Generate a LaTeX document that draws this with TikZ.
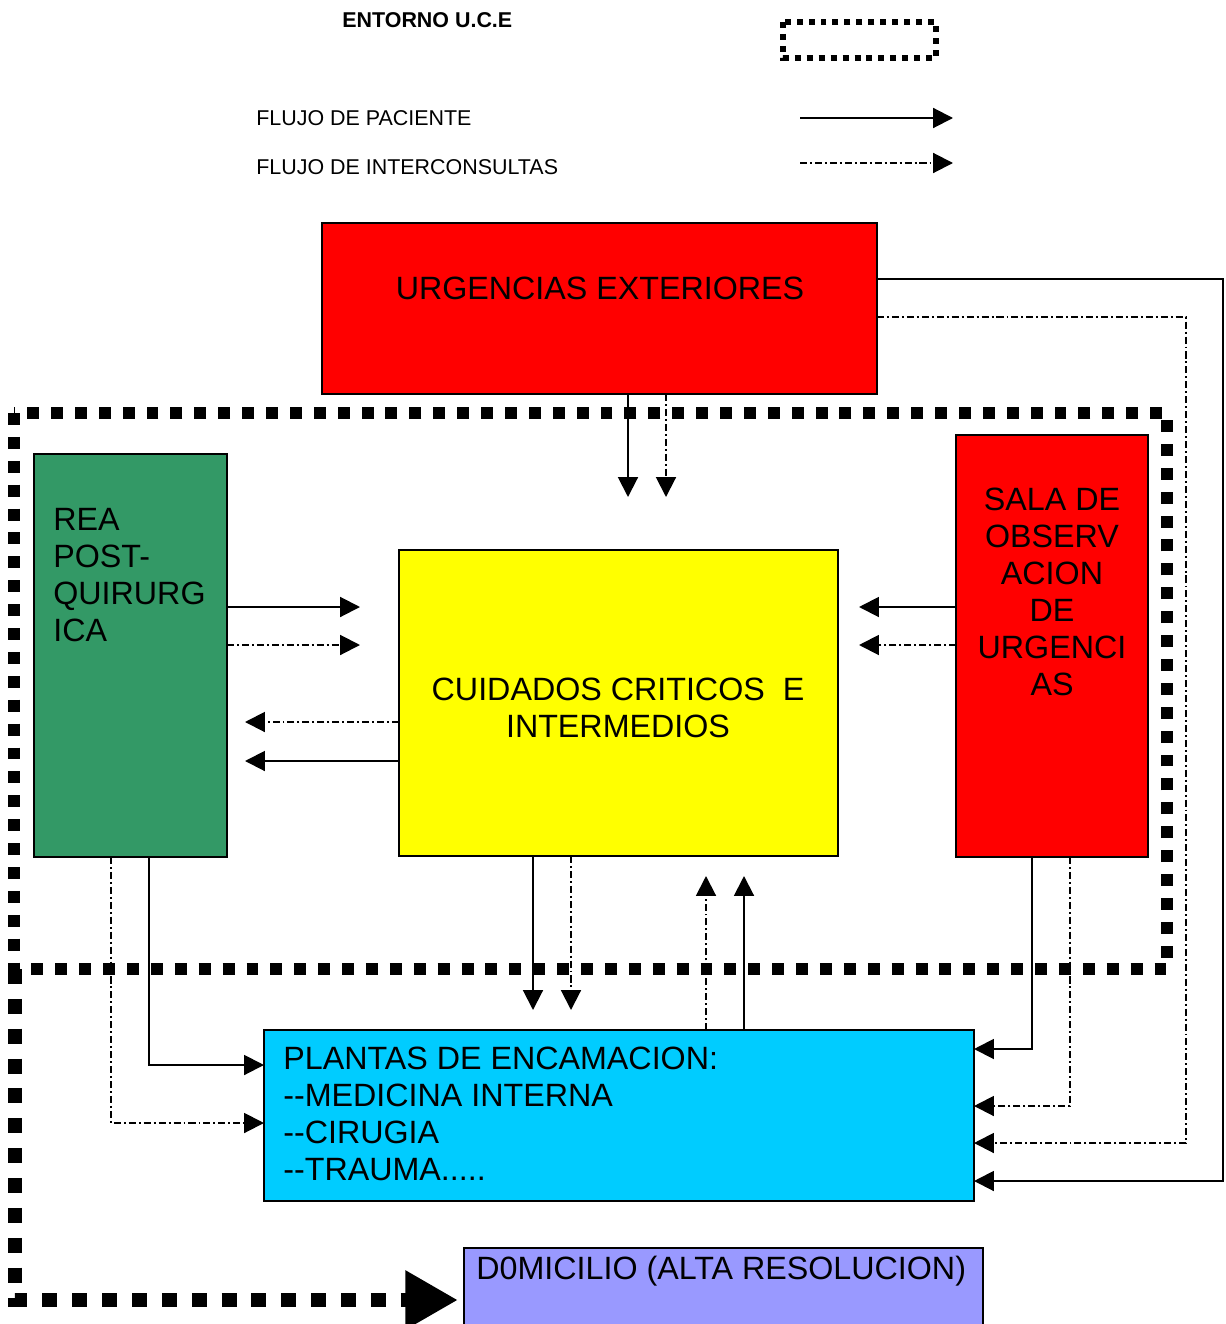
\documentclass[tikz,border=0pt]{standalone}
\usepackage{fontspec}
\setmainfont{Liberation Sans}
\usetikzlibrary{arrows.meta}
\definecolor{urgred}{HTML}{FF0000}
\definecolor{reagreen}{HTML}{339966}
\definecolor{ccyellow}{HTML}{FFFF00}
\definecolor{plantcyan}{HTML}{00CCFF}
\definecolor{domviolet}{HTML}{9999FF}
\def\px{0.02cm}
\begin{document}
\begin{tikzpicture}[x=0.02cm, y=-0.02cm,
  box/.style={draw=black, line width=1.1pt, rectangle, inner sep=0pt, outer sep=0pt, anchor=north west},
  bigtxt/.style={inner sep=0pt, font=\fontsize{18.35}{21}\selectfont},
  legtxt/.style={inner sep=0pt, font=\fontsize{12.2}{14}\selectfont, anchor=base west},
  flow/.style={draw=black, line width=1.15pt, -{Triangle[length=11.3pt,width=11.3pt]}},
  consult/.style={flow, dash pattern=on 4pt off 1.7pt on 1.1pt off 1.7pt},
  ucebox/.style={draw=black, line width=6.8pt, dash pattern=on 6.8pt off 6.8pt},
  exitline/.style={draw=black, line width=8.5pt, dash pattern=on 8.5pt off 8.5pt, -{Triangle[length=30pt,width=31.7pt]}},
  legbox/.style={draw=black, line width=3.4pt, dash pattern=on 3.4pt off 3.4pt},
]
\useasboundingbox (0,0) rectangle (1225,1324);

% legend
\node[legtxt, font=\bfseries\fontsize{12.2}{14}\selectfont] (entorno) at (342,28) {ENTORNO U.C.E};
\draw[legbox] (783,22) rectangle (936,58);
\node[legtxt] (lflujo) at (256,126) {FLUJO DE PACIENTE};
\node[legtxt] (linter) at (256,175) {FLUJO DE INTERCONSULTAS};
\coordinate (la1) at (800,118); \coordinate (lb1) at (953,118);
\coordinate (la2) at (800,163); \coordinate (lb2) at (953,163);
\draw[flow] (la1) -- (lb1);
\draw[consult] (la2) -- (lb2);

% U.C.E. environment
\draw[ucebox] (14,413) rectangle (1167,969);

% boxes
\node[box, fill=urgred, minimum width=555*\px, minimum height=171*\px] (urg) at (322,223) {};
\node[box, fill=reagreen, minimum width=193*\px, minimum height=403*\px] (rea) at (34,454) {};
\node[box, fill=ccyellow, minimum width=439*\px, minimum height=306*\px] (cc) at (399,550) {};
\node[box, fill=urgred, minimum width=192*\px, minimum height=422*\px] (sala) at (956,435) {};
\node[box, fill=plantcyan, minimum width=710*\px, minimum height=171*\px] (plant) at (264,1030) {};
\node[box, fill=domviolet, minimum width=519*\px, minimum height=110*\px] (dom) at (464,1248) {};

% texts
\node[bigtxt, anchor=base] (urgT) at (600,299) {URGENCIAS EXTERIORES};
\node[bigtxt, anchor=north west, align=left] (reaT) at (53,508) {REA\\POST-\\QUIRURG\\ICA};
\node[bigtxt, anchor=north, align=center] (salaT) at (1052,488) {SALA DE\\OBSERV\\ACION\\DE\\URGENCI\\AS};
\node[bigtxt, anchor=north, align=center] (ccT) at (618,678) {CUIDADOS CRITICOS\ \ E\\INTERMEDIOS};
\node[bigtxt, anchor=north west, align=left] (plantT) at (283,1047) {PLANTAS DE ENCAMACION:\\-\kern0pt-MEDICINA INTERNA\\-\kern0pt-CIRUGIA\\-\kern0pt-TRAUMA.....};
\node[bigtxt, anchor=base west] (domT) at (476,1279) {D0MICILIO (ALTA RESOLUCION)};

% exit to home
\draw[exitline, shorten >=0.12cm] (15,969) -- (15,1300) -- (dom.west |- 0,1300);

% urgencias -> cuidados
\draw[flow, shorten >=1.06cm] (urg.south -| 628,0) -- (cc.north -| 628,0);
\draw[consult, shorten >=1.06cm] (urg.south -| 666,0) -- (cc.north -| 666,0);
% rea -> cuidados
\draw[flow, shorten >=0.78cm] (rea.east |- 0,607) -- (cc.west |- 0,607);
\draw[consult, shorten >=0.78cm] (rea.east |- 0,645) -- (cc.west |- 0,645);
% cuidados -> rea
\draw[consult, shorten >=0.36cm] (cc.west |- 0,722) -- (rea.east |- 0,722);
\draw[flow, shorten >=0.36cm] (cc.west |- 0,761) -- (rea.east |- 0,761);
% sala -> cuidados
\draw[flow, shorten >=0.42cm] (sala.west |- 0,607) -- (cc.east |- 0,607);
\draw[consult, shorten >=0.42cm] (sala.west |- 0,645) -- (cc.east |- 0,645);
% cuidados -> plantas
\draw[flow, shorten >=0.4cm] (cc.south -| 533,0) -- (plant.north -| 533,0);
\draw[consult, shorten >=0.4cm] (cc.south -| 571,0) -- (plant.north -| 571,0);
% plantas -> cuidados
\draw[consult, shorten >=0.4cm] (plant.north -| 706,0) -- (cc.south -| 706,0);
\draw[flow, shorten >=0.4cm] (plant.north -| 744,0) -- (cc.south -| 744,0);
% rea -> plantas
\draw[flow] (rea.south -| 149,0) |- (plant.west |- 0,1065);
\draw[consult] (rea.south -| 111,0) |- (plant.west |- 0,1123);
% sala -> plantas
\draw[flow] (sala.south -| 1032,0) |- (plant.east |- 0,1049);
\draw[consult] (sala.south -| 1070,0) |- (plant.east |- 0,1106);
% urgencias -> plantas
\draw[consult] (urg.east |- 0,317) -| (1186,1143) -- (plant.east |- 0,1143);
\draw[flow] (urg.east |- 0,279) -| (1223,1181) -- (plant.east |- 0,1181);
\end{tikzpicture}
\end{document}
